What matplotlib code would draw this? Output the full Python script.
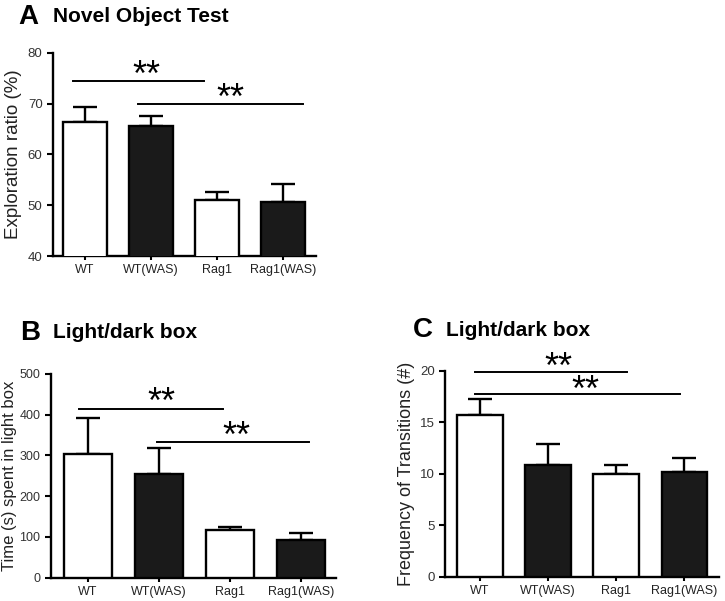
import numpy as np
import matplotlib.pyplot as plt

plt.rcParams['font.family'] = ['Liberation Sans', 'DejaVu Sans']

groups = ['WT', 'WT(WAS)', 'Rag1', 'Rag1(WAS)']
colors = ['white', '#1a1a1a', 'white', '#1a1a1a']

# panel A: novel object test
explore_mean = [66.4, 65.6, 51.0, 50.6]
explore_sem = [3.0, 2.0, 1.7, 3.6]
# panel B: time spent in light box
light_time_mean = [304, 254, 117, 92]
light_time_sem = [88, 65, 8, 17]
# panel C: transitions
transitions_mean = [15.75, 10.9, 9.95, 10.2]
transitions_sem = [1.5, 2.0, 0.95, 1.3]

# significance brackets: (start, end, y, star x)
brackets_a = [(-0.18, 1.8, 74.5, 0.93), (0.8, 3.3, 70.0, 2.2)]
brackets_b = [(-0.12, 1.9, 414, 1.04), (0.98, 3.12, 332, 2.09)]
brackets_c = [(-0.07, 2.16, 19.9, 1.15), (-0.07, 2.93, 17.7, 1.54)]

fig = plt.figure(figsize=(7.25, 6.01), dpi=100)


def panel(rect, mean, sem, ylim, yticks, ylabel, brackets, xlim, star_off,
          label_x, label_size, ytick_size):
    ax = fig.add_axes(rect)
    x = np.arange(len(groups))
    ax.bar(x, mean, width=0.67, color=colors, edgecolor='black', linewidth=1.7, zorder=3)
    ax.errorbar(x, mean, yerr=[np.zeros(len(sem)), sem], fmt='none', ecolor='black',
                elinewidth=1.7, capsize=8.5, capthick=1.7, zorder=2)
    ax.set_ylim(*ylim)
    ax.set_xlim(*xlim)
    ax.set_yticks(yticks)
    ax.set_xticks(x)
    ax.set_xticklabels(groups, fontsize=9)
    ax.tick_params(axis='y', labelsize=ytick_size, width=1.5, length=4, labelcolor='#333333')
    ax.tick_params(axis='x', width=1.5, length=3, pad=3, labelcolor='#222222')
    for s in ['top', 'right']:
        ax.spines[s].set_visible(False)
    for s in ['left', 'bottom']:
        ax.spines[s].set_linewidth(1.7)
    ax.set_ylabel(ylabel, fontsize=label_size, color='#222222')
    ax.yaxis.set_label_coords(label_x, 0.5)
    for x0, x1, y, xs in brackets:
        ax.plot([x0, x1], [y, y], color='black', lw=1.4, clip_on=False)
        ax.annotate('**', (xs, y), xytext=(0, star_off), textcoords='offset points',
                    ha='center', va='baseline', fontsize=26, annotation_clip=False)
    return ax


panel([0.0731, 0.574, 0.363, 0.338], explore_mean, explore_sem, (40, 80),
      [40, 50, 60, 70, 80], 'Exploration ratio (%)', brackets_a, (-0.485, 3.5), -3.5,
      -0.118, 13.5, 9.5)
panel([0.0703, 0.0388, 0.3927, 0.3392], light_time_mean, light_time_sem, (0, 500),
      [0, 100, 200, 300, 400, 500], 'Time (s) spent in light box', brackets_b,
      (-0.52, 3.49), -3.0, -0.119, 12, 9)
panel([0.614, 0.0404, 0.378, 0.3426], transitions_mean, transitions_sem, (0, 20),
      [0, 5, 10, 15, 20], 'Frequency of Transitions (#)', brackets_c, (-0.51, 3.51), -4.5,
      -0.109, 13, 9.5)

# panel letters and titles
fig.text(18 / 725, 1 - 17 / 601, 'A', fontsize=20, fontweight='bold', va='center')
fig.text(53 / 725, 1 - 17 / 601, 'Novel Object Test', fontsize=15, fontweight='bold', va='center')
fig.text(20 / 725, 1 - 333 / 601, 'B', fontsize=20, fontweight='bold', va='center')
fig.text(53 / 725, 1 - 333 / 601, 'Light/dark box', fontsize=15, fontweight='bold', va='center')
fig.text(413 / 725, 1 - 330 / 601, 'C', fontsize=20, fontweight='bold', va='center')
fig.text(446 / 725, 1 - 330 / 601, 'Light/dark box', fontsize=15, fontweight='bold', va='center')

fig.savefig('out.png', dpi=100)
